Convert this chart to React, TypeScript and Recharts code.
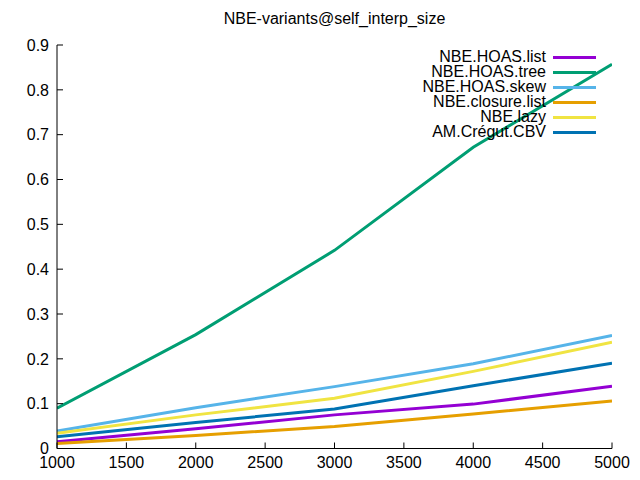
import { Legend, Line, LineChart, XAxis, YAxis } from "recharts";

const sizes = [1000, 2000, 3000, 4000, 5000];
const hoasList = [0.015, 0.044, 0.075, 0.099, 0.139];
const hoasTree = [0.09, 0.254, 0.442, 0.672, 0.857];
const hoasSkew = [0.039, 0.091, 0.138, 0.189, 0.252];
const closureList = [0.011, 0.029, 0.049, 0.077, 0.106];
const lazy = [0.034, 0.075, 0.112, 0.172, 0.237];
const cregutCBV = [0.026, 0.058, 0.088, 0.14, 0.19];

const xTicks = [1000, 1500, 2000, 2500, 3000, 3500, 4000, 4500, 5000];
const yTicks = [0, 0.1, 0.2, 0.3, 0.4, 0.5, 0.6, 0.7, 0.8, 0.9];

const series = [
  { key: "list", name: "NBE.HOAS.list", color: "#9400d3", values: hoasList },
  { key: "tree", name: "NBE.HOAS.tree", color: "#009e73", values: hoasTree },
  { key: "skew", name: "NBE.HOAS.skew", color: "#56b4e9", values: hoasSkew },
  { key: "closure", name: "NBE.closure.list", color: "#e69f00", values: closureList },
  { key: "lazy", name: "NBE.lazy", color: "#f0e442", values: lazy },
  { key: "cbv", name: "AM.Crégut.CBV", color: "#0072b2", values: cregutCBV },
];

const data = sizes.map((x, i) => {
  const row: Record<string, number> = { x };
  series.forEach((s) => (row[s.key] = s.values[i]));
  return row;
});

const font = "'Liberation Sans', Arial, sans-serif";
const tickStyle = { fontSize: 16, fill: "#000", fontFamily: font };
const axisLine = { stroke: "#000", strokeWidth: 1 };

const GnuLegend = () => (
  <div style={{ fontFamily: font, fontSize: 16, color: "#000" }}>
    {series.map((s) => (
      <div
        key={s.key}
        style={{
          display: "flex",
          justifyContent: "flex-end",
          alignItems: "center",
          height: 15,
          lineHeight: "15px",
        }}
      >
        <span style={{ position: "relative", top: -1 }}>{s.name}</span>
        <span
          style={{
            display: "inline-block",
            width: 43,
            height: 3,
            marginLeft: 7,
            background: s.color,
          }}
        />
      </div>
    ))}
  </div>
);

export default function App() {
  return (
    <div
      style={{
        position: "absolute",
        left: 0,
        top: 0,
        width: 640,
        height: 480,
        background: "#fff",
      }}
    >
      <div
        style={{
          position: "absolute",
          top: 10,
          left: 57,
          width: 555,
          textAlign: "center",
          fontFamily: font,
          fontSize: 16,
          lineHeight: "18px",
        }}
      >
        NBE-variants@self_interp_size
      </div>
      <LineChart
        width={640}
        height={480}
        data={data}
        margin={{ top: 45, right: 28, bottom: 0, left: 0 }}
      >
        <XAxis
          dataKey="x"
          type="number"
          domain={[1000, 5000]}
          ticks={xTicks}
          allowDataOverflow
          height={31.5}
          tickSize={-6}
          tickMargin={14}
          axisLine={axisLine}
          tickLine={axisLine}
          tick={tickStyle}
        />
        <XAxis
          xAxisId="top"
          orientation="top"
          type="number"
          domain={[1000, 5000]}
          ticks={xTicks}
          allowDataOverflow
          height={0}
          tickSize={-6}
          tickFormatter={() => ""}
          axisLine={axisLine}
          tickLine={axisLine}
        />
        <YAxis
          type="number"
          domain={[0, 0.9]}
          ticks={yTicks}
          allowDataOverflow
          width={57}
          tickSize={-6}
          tickMargin={14}
          tickFormatter={(v: number) => (v === 0 ? "0" : v.toFixed(1))}
          axisLine={axisLine}
          tickLine={axisLine}
          tick={tickStyle}
        />
        <YAxis
          yAxisId="right"
          orientation="right"
          type="number"
          domain={[0, 0.9]}
          ticks={yTicks}
          allowDataOverflow
          width={0}
          tickSize={-6}
          tickFormatter={() => ""}
          axisLine={axisLine}
          tickLine={axisLine}
        />
        <Legend
          layout="vertical"
          align="center"
          verticalAlign="middle"
          wrapperStyle={{ left: 296, top: 49.5, width: 300 }}
          content={() => <GnuLegend />}
        />
        {series.map((s) => (
          <Line
            key={s.key}
            dataKey={s.key}
            name={s.name}
            stroke={s.color}
            strokeWidth={3}
            dot={false}
            activeDot={false}
            type="linear"
            isAnimationActive={false}
          />
        ))}
      </LineChart>
    </div>
  );
}
